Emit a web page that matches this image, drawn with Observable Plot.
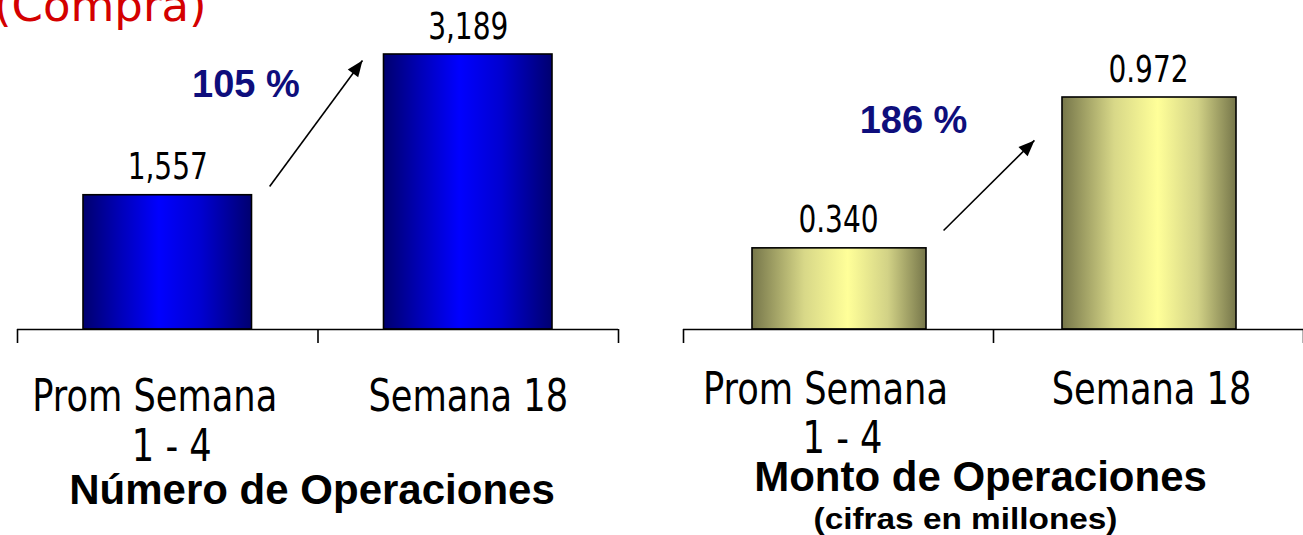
<!DOCTYPE html>
<html>
<head>
<meta charset="utf-8">
<script src="https://cdn.jsdelivr.net/npm/d3@7"></script>
<script src="https://cdn.jsdelivr.net/npm/@observablehq/plot@0.6"></script>
<style>
  html, body { margin: 0; padding: 0; background: #fff; }
  #wrap { position: relative; width: 1303px; height: 535px; overflow: hidden; background: #fff; }
  #left { position: absolute; left: 0; top: 0; }
  #right { position: absolute; left: 650px; top: 0; }
  #header { position: absolute; left: -6px; top: -17px; font: 45px/45px "DejaVu Sans", sans-serif; color: #d40000; white-space: nowrap; }
</style>
</head>
<body>
<div id="wrap">
  <div id="header"></div>
  <div id="left"></div>
  <div id="right"></div>
</div>
<script>
// ---- data ----
const header = "(Compra)";
const categories = ["Prom Semana 1 - 4", "Semana 18"];
const categoryLine1 = ["Prom Semana", "Semana 18"];
const categoryLine2 = ["1 - 4", ""];
const numeroOperaciones = [1557, 3189];
const montoOperaciones = [0.340, 0.972];
const numeroLabels = ["1,557", "3,189"];
const montoLabels = ["0.340", "0.972"];
const variaciones = ["105 %", "186 %"];
const panelTitles = ["Número de Operaciones", "Monto de Operaciones"];
const panelSubtitles = ["", "(cifras en millones)"];

document.getElementById("header").textContent = header;

const NARROW = '"Liberation Sans Narrow", "DejaVu Sans Condensed", sans-serif';
const BOLD = '"Liberation Sans", Arial, sans-serif';

// narrow arrow head with its tip at the origin, pointing up
const arrowHead = {
  draw(ctx) {
    ctx.moveTo(0, 0);
    ctx.lineTo(-6.5, 16);
    ctx.lineTo(6.5, 16);
    ctx.closePath();
  }
};

function gradientDefs(id, stops) {
  return () => {
    const defs = d3.create("svg:defs");
    const g = defs.append("linearGradient").attr("id", id)
      .attr("x1", "0%").attr("x2", "100%").attr("y1", "0%").attr("y2", "0%");
    for (const [o, c] of stops) g.append("stop").attr("offset", o).attr("stop-color", c);
    return defs.node();
  };
}

// horizontal squeeze/stretch of text marks (the reference fonts are condensed)
function stretch(svg, cls, sx) {
  svg.querySelectorAll(`g.${cls} text`).forEach(t => {
    const tr = t.getAttribute("transform");
    if (tr) t.setAttribute("transform", `${tr} scale(${sx},1)`);
    else {
      const x = +(t.getAttribute("x") || 0);
      t.setAttribute("transform", `translate(${x},0) scale(${sx},1) translate(${-x},0)`);
    }
  });
}

function panel(cfg) {
  const H = 535, base = 329;
  const n = categories.length;
  const data = categories.map((c, i) => ({
    i, c, v: cfg.values[i], label: cfg.labels[i], l1: categoryLine1[i], l2: categoryLine2[i]
  }));
  const xDomain = [0, n], xRange = cfg.xRange;
  const yDomain = [0, d3.max(cfg.values)], yRange = [base, cfg.topY];
  const px = d3.scaleLinear(xDomain, xRange), py = d3.scaleLinear(yDomain, yRange);
  const tickEnd = py.invert(base + 14);
  const a = cfg.arrow;
  const angle = Math.atan2(px(a.x2) - px(a.x1), py(a.y1) - py(a.y2)) * 180 / Math.PI;

  const svg = Plot.plot({
    width: cfg.width,
    height: H,
    margin: 0,
    x: { type: "linear", domain: xDomain, range: xRange, axis: null },
    y: { type: "linear", domain: yDomain, range: yRange, axis: null },
    style: { background: "transparent", overflow: "visible" },
    marks: [
      gradientDefs(cfg.gradId, cfg.stops),
      Plot.rectY(data, {
        x1: d => d.i, x2: d => d.i + 1, y: "v",
        insetLeft: cfg.insetL, insetRight: cfg.insetR,
        fill: `url(#${cfg.gradId})`, stroke: "#000", strokeWidth: 1.6
      }),
      Plot.ruleY([0], { x1: 0, x2: n, stroke: "#000", strokeWidth: 1.6 }),
      Plot.ruleX(d3.range(n + 1), { x: d => d, y1: 0, y2: tickEnd, stroke: "#000", strokeWidth: 1.6 }),
      Plot.text(data, {
        x: d => d.i + 0.5, y: "v", text: "label", dy: -16, lineAnchor: "bottom",
        fontSize: 38, fontFamily: NARROW, fill: "#000", className: "vlabel"
      }),
      Plot.text(data, {
        filter: d => d.i === 0,
        x: d => d.i + 0.5, y: 0, text: "l1", dx: -13, dy: cfg.catDy, lineAnchor: "bottom",
        fontSize: 45, fontFamily: NARROW, fill: "#000", className: "cat"
      }),
      Plot.text(data, {
        filter: d => d.i !== 0,
        x: d => d.i + 0.5, y: 0, text: "l1", dx: cfg.cat2Dx, dy: cfg.catDy, lineAnchor: "bottom",
        fontSize: 45, fontFamily: NARROW, fill: "#000", className: "cat"
      }),
      Plot.text(data, {
        filter: d => d.l2,
        x: d => d.i + 0.5, y: 0, text: "l2", dx: 4, dy: cfg.catDy + cfg.lineGap, lineAnchor: "bottom",
        fontSize: 45, fontFamily: NARROW, fill: "#000", className: "cat"
      }),
      Plot.link([a], {
        x1: "x1", y1: "y1", x2: "x2", y2: "y2", stroke: "#000", strokeWidth: 1.6
      }),
      Plot.dot([a], {
        x: "x2", y: "y2", symbol: arrowHead, r: 1, rotate: angle, fill: "#000", stroke: "none"
      }),
      Plot.text([cfg.pct], {
        x: cfg.pctPos[0], y: cfg.pctPos[1], text: d => d, lineAnchor: "bottom",
        fontSize: 38, fontWeight: "bold", fontFamily: BOLD, fill: "#0e0e7c"
      }),
      Plot.text([cfg.title], {
        x: n / 2, y: 0, text: d => d, dx: cfg.titleDx, dy: cfg.titleDy, lineAnchor: "bottom",
        fontSize: 42, fontWeight: "bold", fontFamily: BOLD, fill: "#000"
      }),
      Plot.text([cfg.subtitle].filter(Boolean), {
        x: n / 2, y: 0, text: d => d, dx: cfg.subDx, dy: cfg.subDy, lineAnchor: "bottom",
        fontSize: 29, fontWeight: "bold", fontFamily: BOLD, fill: "#000", className: "sub"
      })
    ]
  });
  stretch(svg, "vlabel", 0.82);
  stretch(svg, "cat", 0.87);
  stretch(svg, "sub", 1.15);
  return svg;
}

const blueStops = [["0%", "#00006e"], ["22%", "#0000b8"], ["45%", "#0000ff"], ["70%", "#0000d0"], ["100%", "#000070"]];
const oliveStops = [["0%", "#76764a"], ["30%", "#d8d888"], ["55%", "#ffff99"], ["78%", "#d2d286"], ["100%", "#76764a"]];

const leftCfg = {
  width: 650, xRange: [17, 618], topY: 54,
  values: numeroOperaciones, labels: numeroLabels,
  gradId: "gradBlue", stops: blueStops, insetL: 66, insetR: 66,
  arrow: { x1: 0.839, y1: numeroOperaciones[0] * 1.065, x2: 1.148, y2: numeroOperaciones[1] * 0.978 },
  pct: variaciones[0], pctPos: [0.76, numeroOperaciones[1] * 0.847],
  catDy: 81, lineGap: 50, cat2Dx: 0,
  title: panelTitles[0], titleDx: -6, titleDy: 174,
  subtitle: panelSubtitles[0], subDx: 0, subDy: 0
};
const rightCfg = {
  width: 653, xRange: [33, 653], topY: 97,
  values: montoOperaciones, labels: montoLabels,
  gradId: "gradOlive", stops: oliveStops, insetL: 69, insetR: 67,
  arrow: { x1: 0.839, y1: montoOperaciones[0] * 1.22, x2: 1.132, y2: montoOperaciones[1] * 0.815 },
  pct: variaciones[1], pctPos: [0.742, montoOperaciones[1] * 0.845],
  catDy: 74, lineGap: 49, cat2Dx: 3,
  title: panelTitles[1], titleDx: -13, titleDy: 161,
  subtitle: panelSubtitles[1], subDx: -28, subDy: 199
};

document.getElementById("left").appendChild(panel(leftCfg));
document.getElementById("right").appendChild(panel(rightCfg));
</script>
</body>
</html>
